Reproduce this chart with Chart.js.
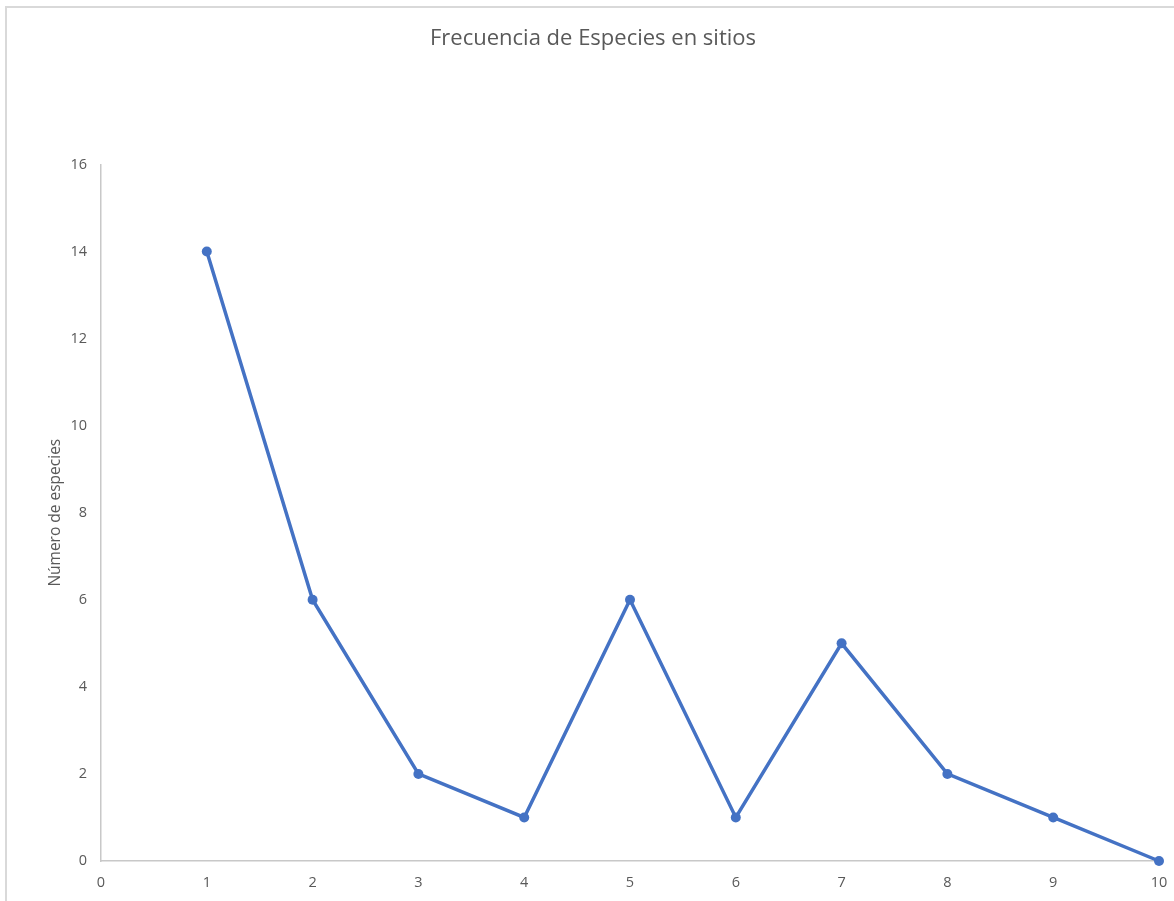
<!DOCTYPE html>
<html>
<head>
<meta charset="utf-8">
<script src="https://cdn.jsdelivr.net/npm/chart.js@4/dist/chart.umd.min.js"></script>
<style>
  html, body { margin: 0; padding: 0; background: #fff; overflow: hidden; }
  #frame { position: absolute; left: 5px; top: 6px; width: 1300px; height: 1000px;
           border: 2px solid #d9d9d9; box-sizing: border-box; }
  #wrap { position: absolute; left: 0; top: 0; width: 1174px; height: 901px; }
</style>
</head>
<body>
<div id="frame"></div>
<div id="wrap"><canvas id="chart" width="1174" height="901"></canvas></div>
<script>
// Número de sitios en que aparece una especie
const sitios = [1, 2, 3, 4, 5, 6, 7, 8, 9, 10];
// Número de especies para cada frecuencia
const especies = [14, 6, 2, 1, 6, 1, 5, 2, 1, 0];

const chartTitle = 'Frecuencia de Especies en sitios';
const yTitle = 'Número de especies';

const points = sitios.map((x, i) => ({ x: x, y: especies[i] }));
const gray = '#595959';
const fontFamily = '"Open Sans", "Noto Sans", sans-serif';

new Chart(document.getElementById('chart'), {
  type: 'line',
  data: {
    datasets: [{
      data: points,
      borderColor: '#4472C4',
      backgroundColor: '#4472C4',
      borderWidth: 3.5,
      pointRadius: 5,
      pointBorderWidth: 0,
      tension: 0,
      clip: false
    }]
  },
  options: {
    responsive: false,
    animation: false,
    layout: { padding: { left: 27, right: 15, top: 0, bottom: 0 } },
    plugins: {
      legend: { display: false },
      tooltip: { enabled: false },
      title: {
        display: true,
        text: chartTitle,
        color: gray,
        font: { family: fontFamily, size: 22, weight: 'normal' },
        padding: { top: 26, bottom: 112 }
      }
    },
    scales: {
      x: {
        type: 'linear',
        min: 0,
        max: 10,
        ticks: { stepSize: 1, color: gray, padding: 13,
                 font: { family: fontFamily, size: 14.5 } },
        grid: { display: false, drawTicks: false },
        border: { display: true, color: '#c8c8c8', width: 1.5 },
        afterFit: (s) => { s.height = 40; s.paddingRight = 0; s.paddingLeft = 0; }
      },
      y: {
        min: 0,
        max: 16,
        ticks: { stepSize: 2, color: gray, padding: 14,
                 font: { family: fontFamily, size: 14.5 } },
        grid: { display: false, drawTicks: false },
        border: { display: true, color: '#c8c8c8', width: 1.5 },
        title: {
          display: true,
          text: yTitle,
          color: gray,
          font: { family: fontFamily, size: 15.5, weight: 'normal' },
          padding: { top: 19, bottom: 0 }
        },
        afterFit: (s) => { s.width = 74; }
      }
    }
  }
});
</script>
</body>
</html>
